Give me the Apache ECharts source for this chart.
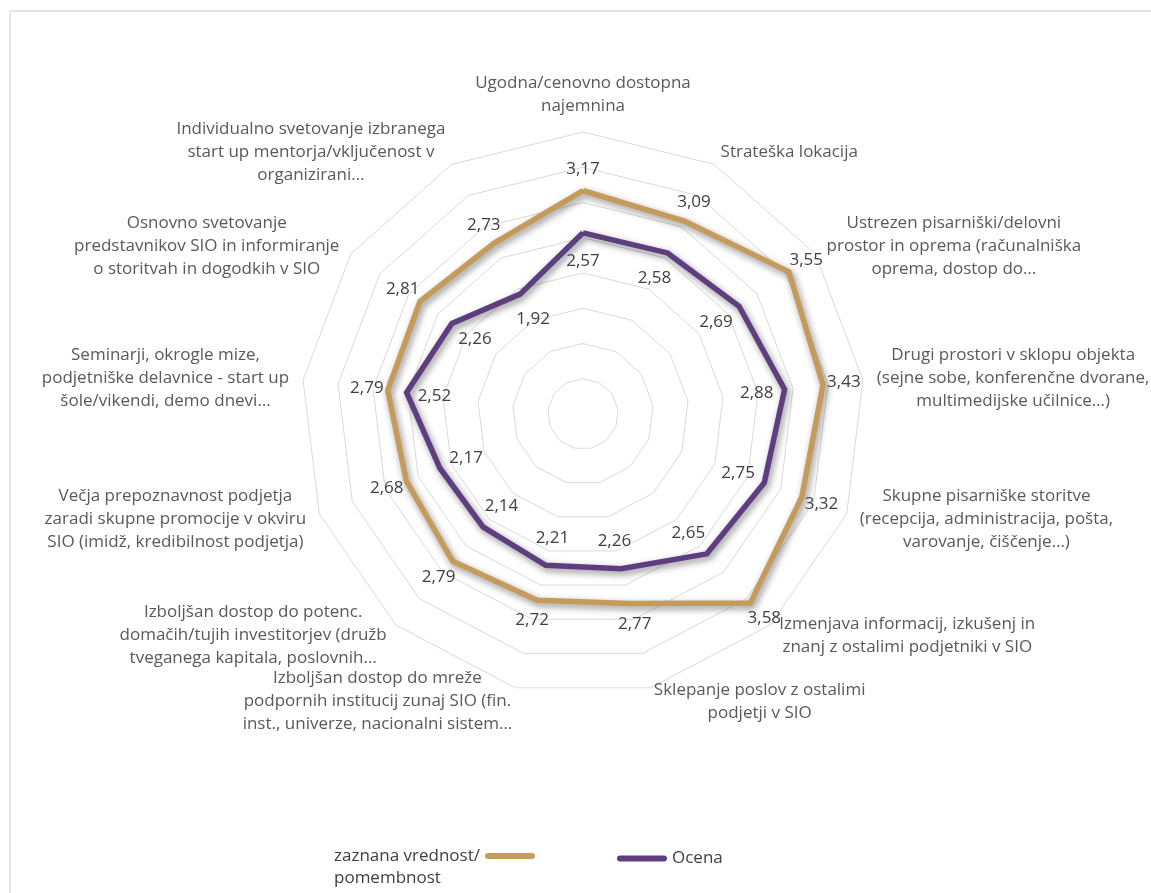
<!DOCTYPE html>
<html>
<head>
<meta charset="utf-8">
<style>
  html, body { margin: 0; padding: 0; background: #ffffff; }
  #frame { position: absolute; left: 9px; top: 10px; width: 1200px; height: 900px;
           border-top: 2px solid #e4e4e4; border-left: 2px solid #e4e4e4; }
  #chart { position: absolute; left: 0; top: 0; width: 1151px; height: 893px; }
</style>
<script src="https://cdn.jsdelivr.net/npm/echarts@6/dist/echarts.min.js"></script>
</head>
<body>
<div id="frame"></div>
<div id="chart"></div>
<script>
// Radar axes, clockwise from the top
const categories = [
  'Ugodna/cenovno dostopna\nnajemnina',
  'Strateška lokacija',
  'Ustrezen pisarniški/delovni\nprostor in oprema (računalniška\noprema, dostop do…',
  'Drugi prostori v sklopu objekta\n(sejne sobe, konferenčne dvorane,\nmultimedijske učilnice…)',
  'Skupne pisarniške storitve\n(recepcija, administracija, pošta,\nvarovanje, čiščenje…)',
  'Izmenjava informacij, izkušenj in\nznanj z ostalimi podjetniki v SIO',
  'Sklepanje poslov z ostalimi\npodjetji v SIO',
  'Izboljšan dostop do mreže\npodpornih institucij zunaj SIO (fin.\ninst., univerze, nacionalni sistem…',
  'Izboljšan dostop do potenc.\ndomačih/tujih investitorjev (družb\ntveganega kapitala, poslovnih…',
  'Večja prepoznavnost podjetja\nzaradi skupne promocije v okviru\nSIO (imidž, kredibilnost podjetja)',
  'Seminarji, okrogle mize,\npodjetniške delavnice - start up\nšole/vikendi, demo dnevi…',
  'Osnovno svetovanje\npredstavnikov SIO in informiranje\no storitvah in dogodkih v SIO',
  'Individualno svetovanje izbranega\nstart up mentorja/vključenost v\norganizirani…'
];

const seriesNames = ['zaznana vrednost/pomembnost', 'Ocena'];

// perceived value / importance
const importanceValues = [3.17, 3.09, 3.55, 3.43, 3.32, 3.58, 2.77, 2.72, 2.79, 2.68, 2.79, 2.81, 2.73];
// rating
const ratingValues = [2.57, 2.58, 2.69, 2.88, 2.75, 2.65, 2.26, 2.21, 2.14, 2.17, 2.52, 2.26, 1.92];

const axisMin = 0;
const axisMax = 4;
const axisSplits = 8;

const GOLD = '#C59B5C';
const PURPLE = '#5E3E7F';
const CENTER = [583, 414];
const FONT = '"Open Sans", "Liberation Sans", sans-serif';

// ECharts lays radar indicators out counter-clockwise; keep the first axis on top
// and walk the rest backwards so the categories read clockwise.
const order = [0].concat(categories.map((_, i) => i).slice(1).reverse());
const pick = arr => order.map(i => arr[i]);

const chart = echarts.init(document.getElementById('chart'), null, { renderer: 'canvas' });

function valueText(p) {
  let v = p.value;
  if (Array.isArray(v)) v = v[p.dimensionIndex];
  return Number(v).toFixed(2).replace('.', ',');
}

// push each value label along its spoke: outward for one series, inward for the other
function radialLabel(dist) {
  return function (p) {
    const cx = p.rect.x + p.rect.width / 2;
    const cy = p.rect.y + p.rect.height / 2;
    const dx = cx - CENTER[0], dy = cy - CENTER[1];
    const d = Math.hypot(dx, dy) || 1;
    return { x: cx + dx / d * dist, y: cy + dy / d * dist, align: 'center', verticalAlign: 'middle' };
  };
}

const lineShadow = { shadowBlur: 7, shadowColor: 'rgba(0,0,0,0.45)', shadowOffsetX: 2, shadowOffsetY: 3 };
const pillIcon = 'path://M3,0 L47,0 A3,3 0 0 1 47,6 L3,6 A3,3 0 0 1 3,0 Z';

const option = {
  animation: false,
  backgroundColor: 'transparent',
  radar: {
    center: CENTER,
    radius: 282,
    startAngle: 90,
    shape: 'polygon',
    splitNumber: axisSplits,
    indicator: pick(categories).map(name => ({ name: name, min: axisMin, max: axisMax })),
    axisName: {
      color: '#595959',
      fontFamily: FONT,
      fontSize: 17,
      lineHeight: 23,
      formatter: name => name.split('\n').map(l => '{c|' + l + '}').join('\n'),
      rich: {
        c: { align: 'center', color: '#595959', fontFamily: FONT, fontSize: 17, lineHeight: 23 }
      }
    },
    nameGap: 14,
    axisLine: { show: false },
    axisTick: { show: false },
    axisLabel: { show: false },
    splitArea: { show: false },
    splitLine: { lineStyle: { color: '#d9d9d9', width: 1 } }
  },
  legend: [
    {
      data: [seriesNames[0]],
      left: 334,
      top: 823,
      padding: 0,
      align: 'right',
      itemWidth: 50,
      itemHeight: 7,
      icon: pillIcon,
      formatter: name => name.split('/').map((s, i, a) => '{l|' + s + (i < a.length - 1 ? '/' : '') + '}').join('\n'),
      textStyle: {
        color: '#404040', fontFamily: FONT, fontSize: 17, lineHeight: 22, padding: [22, 0, 0, 0],
        rich: { l: { align: 'left', color: '#404040', fontFamily: FONT, fontSize: 17, lineHeight: 22 } }
      }
    },
    {
      data: [seriesNames[1]],
      left: 617,
      top: 850,
      padding: 0,
      align: 'left',
      itemWidth: 50,
      itemHeight: 7,
      icon: pillIcon,
      textStyle: { color: '#404040', fontFamily: FONT, fontSize: 17 }
    }
  ],
  series: [
    {
      type: 'radar',
      name: seriesNames[0],
      symbol: 'circle',
      symbolSize: 2,
      color: GOLD,
      itemStyle: { color: GOLD },
      lineStyle: Object.assign({ color: GOLD, width: 5.5, join: 'miter' }, lineShadow),
      label: { show: true, formatter: valueText, color: '#404040', fontFamily: FONT, fontSize: 17 },
      labelLayout: radialLabel(21),
      data: [{ name: seriesNames[0], value: pick(importanceValues) }]
    },
    {
      type: 'radar',
      name: seriesNames[1],
      symbol: 'circle',
      symbolSize: 2,
      color: PURPLE,
      itemStyle: { color: PURPLE },
      lineStyle: Object.assign({ color: PURPLE, width: 5.5, join: 'miter' }, lineShadow),
      label: { show: true, formatter: valueText, color: '#404040', fontFamily: FONT, fontSize: 17 },
      labelLayout: radialLabel(-28),
      data: [{ name: seriesNames[1], value: pick(ratingValues) }]
    }
  ]
};

chart.setOption(option);
</script>
</body>
</html>
